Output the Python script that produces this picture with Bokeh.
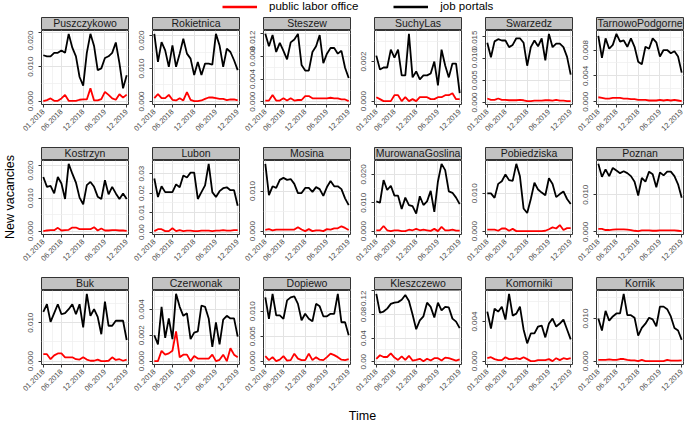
import math
from bokeh.plotting import figure
from bokeh.models import Range1d, FixedTicker, PrintfTickFormatter, Legend, LegendItem
from bokeh.layouts import row, column
from bokeh.embed import file_html
from bokeh.resources import INLINE
from bokeh.core.properties import value

# ---------------- data ----------------
months = list(range(24))
x_tick_pos = [0, 5, 11, 17, 23]
x_tick_labels = ["01.2018", "06.2018", "12.2018", "06.2019", "12.2019"]
x_minor_pos = [2.5, 8, 14, 20]

names = ["Puszczykowo", "Rokietnica", "Steszew", "SuchyLas", "Swarzedz", "TarnowoPodgorne",
         "Kostrzyn", "Lubon", "Mosina", "MurowanaGoslina", "Pobiedziska", "Poznan",
         "Buk", "Czerwonak", "Dopiewo", "Kleszczewo", "Komorniki", "Kornik"]

portals_Puszczykowo = [0.0133, 0.013, 0.013, 0.014, 0.014, 0.0147, 0.014, 0.0195, 0.0155, 0.013, 0.007, 0.0045,
                       0.014, 0.0195, 0.016, 0.009, 0.0095, 0.0125, 0.013, 0.014, 0.017, 0.011, 0.0037, 0.0075]
office_Puszczykowo = [0.0, 0.0003, 0.0008, 0.0001, 0.0001, 0.0008, 0.0018, 0.0001, 0.0001, 0.0001, 0.0004, 0.0005,
                      0.0005, 0.0037, 0.0002, 0.0002, 0.0006, 0.0027, 0.0018, 0.0008, 0.0004, 0.002, 0.001, 0.0019]

portals_Rokietnica = [0.0205, 0.012, 0.018, 0.0155, 0.0105, 0.017, 0.0105, 0.0145, 0.019, 0.0145, 0.013, 0.008,
                      0.012, 0.008, 0.0115, 0.0115, 0.0112, 0.0205, 0.017, 0.0105, 0.016, 0.015, 0.0125, 0.0095]
office_Rokietnica = [0.001, 0.0022, 0.001, 0.001, 0.002, 0.0005, 0.0003, 0.001, 0.0003, 0.0028, 0.0005, 0.0001,
                     0.0001, 0.0003, 0.0008, 0.0012, 0.0012, 0.001, 0.0008, 0.0008, 0.0004, 0.0006, 0.0006, 0.0003]

portals_Steszew = [0.012, 0.0098, 0.0118, 0.0088, 0.0104, 0.009, 0.0075, 0.0105, 0.011, 0.012, 0.0065, 0.0055,
                   0.0055, 0.0088, 0.0098, 0.0118, 0.0068, 0.0085, 0.0095, 0.0095, 0.0085, 0.009, 0.006, 0.0042]
office_Steszew = [0.0002, 0.0002, 0.0012, 0.0002, 0.0002, 0.0006, 0.0002, 0.0006, 0.0002, 0.0003, 0.0003, 0.001,
                  0.001, 0.0006, 0.0006, 0.0006, 0.0006, 0.0006, 0.0007, 0.0006, 0.0006, 0.0004, 0.0004, 0.0001]

portals_SuchyLas = [0.0023, 0.0016, 0.0017, 0.0017, 0.0026, 0.0022, 0.0026, 0.0013, 0.0013, 0.0034, 0.0012, 0.0015,
                    0.0011, 0.0013, 0.0013, 0.0014, 0.002, 0.0008, 0.0026, 0.0018, 0.0012, 0.0019, 0.0019, 0.0004]
office_SuchyLas = [0.0002, 0.0001, 0.0, 0.0, 0.0, 0.0003, 0.0003, 0.0, 0.0002, 0.0, 0.0001, 0.0,
                   0.0002, 0.0002, 0.0002, 0.0001, 0.0001, 0.0002, 0.0002, 0.0003, 0.0003, 0.0004, 0.0001, 0.0001]

portals_Swarzedz = [0.0135, 0.0102, 0.0138, 0.0143, 0.014, 0.014, 0.0125, 0.013, 0.0145, 0.0145, 0.0135, 0.0083,
                    0.0125, 0.014, 0.0127, 0.0145, 0.0095, 0.0155, 0.0125, 0.0133, 0.0133, 0.0125, 0.0103, 0.0063]
office_Swarzedz = [0.0009, 0.0006, 0.0006, 0.0009, 0.0006, 0.0006, 0.0005, 0.0005, 0.0005, 0.0006, 0.0005, 0.0003,
                   0.0003, 0.0004, 0.0004, 0.0004, 0.0005, 0.0005, 0.0004, 0.0006, 0.0004, 0.0004, 0.0003, 0.0003]

portals_TarnowoPodgorne = [0.0102, 0.0068, 0.0098, 0.0082, 0.0088, 0.0105, 0.0093, 0.0095, 0.0085, 0.0098, 0.0085, 0.0062,
                           0.0058, 0.0085, 0.0082, 0.0098, 0.0092, 0.007, 0.008, 0.008, 0.0075, 0.0078, 0.007, 0.0045]
office_TarnowoPodgorne = [0.0007, 0.0006, 0.0005, 0.0005, 0.0006, 0.0006, 0.0006, 0.0005, 0.0005, 0.0004, 0.0004, 0.0003,
                          0.0003, 0.0003, 0.0002, 0.0002, 0.0002, 0.0003, 0.0002, 0.0003, 0.0002, 0.0003, 0.0002, 0.0001]

portals_Kostrzyn = [0.0165, 0.0135, 0.0138, 0.0115, 0.0165, 0.0145, 0.0098, 0.0205, 0.0175, 0.0148, 0.0102, 0.0082,
                    0.014, 0.015, 0.0135, 0.0105, 0.0098, 0.0155, 0.0112, 0.0135, 0.0115, 0.0098, 0.0115, 0.0098]
office_Kostrzyn = [0.0, 0.0002, 0.0003, 0.0003, 0.001, 0.0002, 0.0003, 0.0004, 0.0011, 0.0011, 0.0006, 0.0006,
                   0.0006, 0.0006, 0.0012, 0.0002, 0.0008, 0.0002, 0.0002, 0.0003, 0.0003, 0.0002, 0.0002, 0.0001]

portals_Lubon = [0.0275, 0.018, 0.0235, 0.0205, 0.0205, 0.0205, 0.0245, 0.023, 0.029, 0.028, 0.0305, 0.0305,
                 0.017, 0.0205, 0.024, 0.035, 0.0205, 0.018, 0.021, 0.0225, 0.023, 0.0215, 0.0215, 0.0135]
office_Lubon = [0.0005, 0.0015, 0.0015, 0.0005, 0.0005, 0.002, 0.0005, 0.001, 0.0005, 0.0008, 0.0008, 0.0005,
                0.0005, 0.0008, 0.0008, 0.0008, 0.0005, 0.0008, 0.0008, 0.001, 0.0008, 0.0008, 0.001, 0.001]

portals_Mosina = [0.0168, 0.009, 0.0112, 0.0108, 0.0128, 0.0133, 0.0128, 0.013, 0.0118, 0.0095, 0.0095, 0.0108,
                  0.0108, 0.0098, 0.011, 0.0105, 0.0088, 0.011, 0.0125, 0.0112, 0.0112, 0.0105, 0.0082, 0.0065]
office_Mosina = [0.0003, 0.0005, 0.0002, 0.0004, 0.0004, 0.0004, 0.0004, 0.0004, 0.0004, 0.001, 0.0004, 0.0,
                 0.0005, 0.0, 0.0002, 0.0002, 0.0, 0.0005, 0.0004, 0.0007, 0.0007, 0.0012, 0.0008, 0.0003]

portals_MurowanaGoslina = [0.0105, 0.01, 0.018, 0.0145, 0.016, 0.0125, 0.0125, 0.0078, 0.0118, 0.0092, 0.0088, 0.0062,
                           0.0123, 0.0092, 0.0105, 0.0142, 0.0068, 0.0175, 0.0237, 0.0215, 0.014, 0.0135, 0.0118, 0.0095]
office_MurowanaGoslina = [0.0003, 0.0003, 0.0018, 0.0003, 0.0, 0.0003, 0.0003, 0.0, 0.0, 0.0005, 0.0003, 0.0008,
                          0.0003, 0.0005, 0.0003, 0.0001, 0.0008, 0.0, 0.0015, 0.0003, 0.0003, 0.0005, 0.0002, 0.0002]

portals_Pobiedziska = [0.01, 0.01, 0.0088, 0.0125, 0.0132, 0.015, 0.0135, 0.0133, 0.0178, 0.0145, 0.006, 0.0048,
                       0.0085, 0.0128, 0.011, 0.0102, 0.0095, 0.014, 0.0125, 0.009, 0.0098, 0.0105, 0.0085, 0.0072]
office_Pobiedziska = [0.0004, 0.0004, 0.0004, 0.0001, 0.0007, 0.0007, 0.0001, 0.0006, 0.0, 0.0, 0.0, 0.0,
                      0.0, 0.0, 0.0, 0.0, 0.0001, 0.0005, 0.001, 0.0007, 0.0016, 0.0003, 0.0008, 0.0008]

portals_Poznan = [0.0183, 0.0148, 0.0168, 0.015, 0.0172, 0.0165, 0.0158, 0.0163, 0.0158, 0.015, 0.0135, 0.0098,
                  0.0145, 0.0135, 0.0162, 0.0155, 0.012, 0.016, 0.0152, 0.0162, 0.0162, 0.015, 0.0128, 0.0092]
office_Poznan = [0.0008, 0.0008, 0.0005, 0.0005, 0.0006, 0.0007, 0.0007, 0.0007, 0.0006, 0.0005, 0.0003, 0.0002,
                 0.0004, 0.0004, 0.0004, 0.0003, 0.0003, 0.0004, 0.0004, 0.0004, 0.0004, 0.0004, 0.0003, 0.0002]

portals_Buk = [0.0128, 0.0148, 0.0102, 0.0125, 0.0148, 0.0122, 0.0125, 0.0135, 0.0148, 0.0122, 0.0148, 0.0088,
               0.0175, 0.0118, 0.0135, 0.0115, 0.007, 0.0155, 0.0092, 0.0092, 0.0105, 0.0105, 0.0105, 0.0055]
office_Buk = [0.0018, 0.0018, 0.0005, 0.0015, 0.002, 0.002, 0.001, 0.001, 0.001, 0.0005, 0.0004, 0.001,
              0.0004, 0.0001, 0.0001, 0.0004, 0.0, 0.0, 0.0001, 0.001, 0.0003, 0.0005, 0.0001, 0.0004]

portals_Czerwonak = [0.002, 0.0013, 0.0042, 0.0018, 0.0033, 0.0017, 0.0052, 0.0042, 0.0035, 0.0037, 0.0017, 0.0022,
                     0.0023, 0.0043, 0.0042, 0.0033, 0.0011, 0.003, 0.0013, 0.0032, 0.0035, 0.0033, 0.0033, 0.0019]
office_Czerwonak = [0.0, 0.0, 0.0008, 0.0005, 0.0006, 0.0008, 0.0023, 0.0003, 0.0005, 0.0005, 0.0, 0.0004,
                    0.0002, 0.0002, 0.0002, 0.0002, 0.0005, 0.0, 0.0001, 0.0005, 0.0, 0.001, 0.0005, 0.0003]

portals_Dopiewo = [0.0128, 0.0085, 0.0135, 0.0092, 0.0092, 0.0085, 0.0122, 0.0128, 0.013, 0.0115, 0.0082, 0.0095,
                   0.0085, 0.008, 0.0115, 0.011, 0.009, 0.009, 0.0095, 0.0095, 0.0135, 0.0078, 0.0078, 0.0052]
office_Dopiewo = [0.001, 0.0002, 0.0008, 0.0, 0.0003, 0.001, 0.0001, 0.0002, 0.0015, 0.0005, 0.0002, 0.0002,
                  0.0015, 0.0002, 0.0008, 0.0003, 0.0002, 0.0008, 0.0015, 0.0012, 0.0008, 0.0003, 0.0002, 0.0004]

portals_Kleszczewo = [0.115, 0.083, 0.085, 0.09, 0.098, 0.1, 0.101, 0.105, 0.113, 0.103, 0.08, 0.055,
                      0.07, 0.077, 0.1, 0.093, 0.075, 0.1, 0.087, 0.093, 0.092, 0.073, 0.068, 0.057]
office_Kleszczewo = [0.005, 0.011, 0.008, 0.008, 0.014, 0.007, 0.003, 0.009, 0.003, 0.01, 0.002, 0.003,
                     0.005, 0.001, 0.005, 0.002, 0.006, 0.006, 0.002, 0.007, 0.006, 0.004, 0.002, 0.004]

portals_Komorniki = [0.005, 0.0033, 0.0053, 0.005, 0.0055, 0.0042, 0.0068, 0.0046, 0.0048, 0.0055, 0.0032, 0.0018,
                     0.0028, 0.0028, 0.0035, 0.0036, 0.0024, 0.0038, 0.0043, 0.0035, 0.0038, 0.0042, 0.0032, 0.0022]
office_Komorniki = [0.0003, 0.0004, 0.0002, 0.0001, 0.0001, 0.0004, 0.0002, 0.0002, 0.0003, 0.0002, 0.0004, 0.0002,
                    0.0, 0.0, 0.0001, 0.0001, 0.0001, 0.0002, 0.0, 0.0003, 0.0001, 0.0003, 0.0002, 0.0003]

portals_Kornik = [0.01, 0.0072, 0.0118, 0.0095, 0.0105, 0.0112, 0.0112, 0.0158, 0.0108, 0.0108, 0.0102, 0.006,
                  0.0078, 0.0088, 0.0102, 0.0098, 0.0082, 0.0128, 0.0128, 0.0122, 0.0105, 0.0078, 0.0072, 0.005]
office_Kornik = [0.0003, 0.0003, 0.0003, 0.0004, 0.0003, 0.0003, 0.0005, 0.0005, 0.0003, 0.0002, 0.0002, 0.0,
                 0.0003, 0.0, 0.0, 0.0, 0.0, 0.0, 0.0, 0.0003, 0.0001, 0.0001, 0.0001, 0.0002]

# y-axis breaks per panel
y_major = [
    [0, 0.01, 0.02], [0, 0.01, 0.02], [0, 0.004, 0.008, 0.012], [0, 0.002],
    [0, 0.005, 0.01, 0.015], [0, 0.004, 0.008],
    [0, 0.01, 0.02], [0, 0.01, 0.02, 0.03], [0, 0.01], [0, 0.01, 0.02],
    [0, 0.01], [0, 0.01],
    [0, 0.01], [0, 0.002, 0.004], [0, 0.005, 0.01], [0, 0.04, 0.08, 0.12],
    [0, 0.004], [0, 0.01],
]
y_minor = [
    [0.005, 0.015], [0.005, 0.015], [0.002, 0.006, 0.01], [0.001, 0.003],
    [0.0025, 0.0075, 0.0125], [0.002, 0.006, 0.01],
    [0.005, 0.015], [0.005, 0.015, 0.025, 0.035], [0.005, 0.015], [0.005, 0.015],
    [0.005, 0.015], [0.005, 0.015],
    [0.005, 0.015], [0.001, 0.003, 0.005], [0.0025, 0.0075, 0.0125], [0.02, 0.06, 0.1],
    [0.002, 0.006], [0.005, 0.015],
]
y_fmt = ["%.3f", "%.3f", "%.3f", "%.3f", "%.3f", "%.3f",
         "%.3f", "%.2f", "%.3f", "%.3f", "%.3f", "%.3f",
         "%.3f", "%.3f", "%.3f", "%.2f", "%.3f", "%.3f"]

legend_labels = ["public labor office", "job portals"]

series = {
    "Puszczykowo": (portals_Puszczykowo, office_Puszczykowo),
    "Rokietnica": (portals_Rokietnica, office_Rokietnica),
    "Steszew": (portals_Steszew, office_Steszew),
    "SuchyLas": (portals_SuchyLas, office_SuchyLas),
    "Swarzedz": (portals_Swarzedz, office_Swarzedz),
    "TarnowoPodgorne": (portals_TarnowoPodgorne, office_TarnowoPodgorne),
    "Kostrzyn": (portals_Kostrzyn, office_Kostrzyn),
    "Lubon": (portals_Lubon, office_Lubon),
    "Mosina": (portals_Mosina, office_Mosina),
    "MurowanaGoslina": (portals_MurowanaGoslina, office_MurowanaGoslina),
    "Pobiedziska": (portals_Pobiedziska, office_Pobiedziska),
    "Poznan": (portals_Poznan, office_Poznan),
    "Buk": (portals_Buk, office_Buk),
    "Czerwonak": (portals_Czerwonak, office_Czerwonak),
    "Dopiewo": (portals_Dopiewo, office_Dopiewo),
    "Kleszczewo": (portals_Kleszczewo, office_Kleszczewo),
    "Komorniki": (portals_Komorniki, office_Komorniki),
    "Kornik": (portals_Kornik, office_Kornik),
}

# ---------------- styling / layout ----------------
FONT = "Liberation Sans"
CELL_W = 111
LEFT = 23
RIGHT = 1
STRIP_H = 13
FRAME_H = 74
BOTTOM = 43
BOTTOM_LAST = 33
YLAB_W = 18
LEG_H = 17
TIME_H = 25
TOTAL_W = YLAB_W + 6 * CELL_W


def make_strip(name):
    s = figure(width=CELL_W, height=STRIP_H, x_range=Range1d(0, 1), y_range=Range1d(0, 1),
               x_axis_type=None, y_axis_type=None, output_backend="svg", toolbar_location=None,
               min_border_left=LEFT, min_border_right=RIGHT, min_border_top=0, min_border_bottom=0)
    s.background_fill_color = "#c2c2c2"
    s.border_fill_color = "white"
    s.outline_line_color = "#333333"
    s.outline_line_width = 1
    s.text(x=[0.5], y=[0.55], text=[name], text_align="center", text_baseline="middle",
           text_font=value(FONT), text_font_size="10.5px", text_color="#1a1a1a")
    return s


def make_panel(idx, name, last_row):
    portals, office = series[name]
    allv = portals + office
    lo, hi = min(allv), max(allv)
    pad = 0.05 * (hi - lo)
    bottom = BOTTOM_LAST if last_row else BOTTOM
    p = figure(width=CELL_W, height=FRAME_H + bottom,
               x_range=Range1d(-0.5, 23.5), y_range=Range1d(lo - pad, hi + pad),
               output_backend="svg", toolbar_location=None,
               min_border_left=LEFT, min_border_right=RIGHT, min_border_top=0, min_border_bottom=bottom)
    p.background_fill_color = "white"
    p.border_fill_color = "white"
    p.outline_line_color = "#333333"
    p.outline_line_width = 1

    p.line(months, office, color="#ff0000", line_width=1.8)
    p.line(months, portals, color="#000000", line_width=1.8)

    xt = FixedTicker(ticks=x_tick_pos, minor_ticks=x_minor_pos)
    yt = FixedTicker(ticks=y_major[idx], minor_ticks=y_minor[idx])
    p.xaxis.ticker = xt
    p.yaxis.ticker = yt
    p.xgrid.ticker = xt
    p.ygrid.ticker = yt
    p.xaxis.major_label_overrides = {t: l for t, l in zip(x_tick_pos, x_tick_labels)}
    p.yaxis.formatter = PrintfTickFormatter(format=y_fmt[idx])

    for ax in (p.xaxis, p.yaxis):
        ax.axis_line_color = None
        ax.minor_tick_line_color = None
        ax.major_tick_in = 0
        ax.major_tick_out = 3
        ax.major_tick_line_color = "#333333"
        ax.major_label_text_font = FONT
        ax.major_label_text_color = "#4d4d4d"
    p.xaxis.major_label_text_font_size = "7.5px"
    p.yaxis.major_label_text_font_size = "8px"
    p.xaxis.major_label_orientation = math.pi / 4
    p.yaxis.major_label_orientation = "vertical"
    p.xaxis.major_label_standoff = 2
    p.yaxis.major_label_standoff = 4

    for g in (p.xgrid, p.ygrid):
        g.grid_line_color = "#e3e3e3"
        g.grid_line_width = 1
        g.minor_grid_line_color = "#eeeeee"
        g.minor_grid_line_width = 0.7
    return p


grid_rows = []
for r in range(3):
    strips = []
    panels = []
    for c in range(6):
        i = r * 6 + c
        strips.append(make_strip(names[i]))
        panels.append(make_panel(i, names[i], r == 2))
    grid_rows.append(row(*strips))
    grid_rows.append(row(*panels))
grid = column(*grid_rows)
grid_h = 2 * (STRIP_H + FRAME_H + BOTTOM) + STRIP_H + FRAME_H + BOTTOM_LAST

# y axis title
ylab = figure(width=YLAB_W, height=grid_h, x_range=Range1d(0, 1), y_range=Range1d(0, 1),
              x_axis_type=None, y_axis_type=None, output_backend="svg", toolbar_location=None,
              min_border_left=0, min_border_right=0, min_border_top=0, min_border_bottom=21)
ylab.outline_line_color = None
ylab.text(x=[0.5], y=[0.5], text=["New vacancies"], angle=math.pi / 2, text_align="center",
          text_baseline="middle", text_font=value(FONT), text_font_size="12.5px", text_color="#000000")

# legend strip (dummy renderers kept outside the visible range, only their legend glyphs show)
leg = figure(width=TOTAL_W, height=LEG_H, x_range=Range1d(0, 1), y_range=Range1d(0, 1),
             x_axis_type=None, y_axis_type=None, output_backend="svg", toolbar_location=None,
             min_border_left=0, min_border_right=0, min_border_top=0, min_border_bottom=0)
leg.outline_line_color = None
r_office = leg.line(x=[5, 6], y=[5, 5], color="#ff0000", line_width=2.5)
r_portal = leg.line(x=[5, 6], y=[5, 5], color="#000000", line_width=2.5)
legend = Legend(items=[LegendItem(label=legend_labels[0], renderers=[r_office]),
                       LegendItem(label=legend_labels[1], renderers=[r_portal])],
                orientation="horizontal", location=(181, LEG_H - 12),
                glyph_width=35, glyph_height=11, label_height=11, label_standoff=12, spacing=35,
                padding=0, margin=0, border_line_color=None, background_fill_alpha=0,
                label_text_font=FONT, label_text_font_size="11.5px", label_text_color="#000000")
leg.add_layout(legend)

# x axis title
tfig = figure(width=TOTAL_W, height=TIME_H, x_range=Range1d(0, 1), y_range=Range1d(0, 1),
              x_axis_type=None, y_axis_type=None, output_backend="svg", toolbar_location=None,
              min_border_left=YLAB_W + LEFT, min_border_right=RIGHT, min_border_top=0, min_border_bottom=0)
tfig.outline_line_color = None
tfig.text(x=[0.5], y=[0.25], text=["Time"], text_align="center", text_baseline="middle",
          text_font=value(FONT), text_font_size="12.5px", text_color="#000000")

layout = column(leg, row(ylab, grid), tfig)

open("out.html", "w").write(file_html(layout, INLINE))
